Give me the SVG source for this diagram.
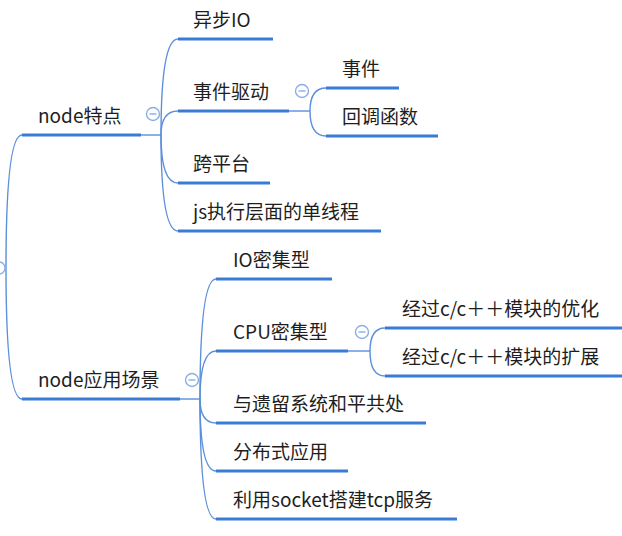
<svg xmlns="http://www.w3.org/2000/svg" width="622" height="536" viewBox="0 0 622 536">
<style>
  .t { font-family: "Noto Sans CJK SC", "Noto Sans", sans-serif; font-size: 19px; fill: #1e1e1e; }
  .u { stroke: #3a7bd5; stroke-width: 3; fill: none; }
  .c { stroke: #5b8fda; stroke-width: 1.4; fill: none; }
  .k circle { fill: #ffffff; stroke: #8aaee6; stroke-width: 1.4; }
  .k line { stroke: #8aaee6; stroke-width: 1.4; }
</style>
<rect width="622" height="536" fill="#ffffff"/>
<g id="connectors">
  <path class="c" d="M6,268 Q6,135 22,135"/>
  <path class="c" d="M6,268 Q6,399 22,399"/>
  <path class="c" d="M141,135 L161,135"/>
  <path class="c" d="M161,135 Q161,39 178,39"/>
  <path class="c" d="M161,135 Q161,111 178,111"/>
  <path class="c" d="M161,135 Q161,183 178,183"/>
  <path class="c" d="M161,135 Q161,231 178,231"/>
  <path class="c" d="M289,111 L310,111"/>
  <path class="c" d="M310,111 Q310,88 326,88"/>
  <path class="c" d="M310,111 Q310,136 326,136"/>
  <path class="c" d="M180,399 L200,399"/>
  <path class="c" d="M200,399 Q200,279 216,279"/>
  <path class="c" d="M200,399 Q200,351 216,351"/>
  <path class="c" d="M200,399 Q200,423 216,423"/>
  <path class="c" d="M200,399 Q200,471 216,471"/>
  <path class="c" d="M200,399 Q200,519 216,519"/>
  <path class="c" d="M348,351 L370,351"/>
  <path class="c" d="M370,351 Q370,328 385,328"/>
  <path class="c" d="M370,351 Q370,376 385,376"/>
</g>
<g id="root-toggle" class="k"><circle cx="-1" cy="268" r="6"/></g>
<g id="node-features">
  <line class="u" x1="22" y1="135" x2="141" y2="135"/>
  <text class="t" x="38" y="123">node特点</text>
  <g class="k"><circle cx="153" cy="114" r="6.5"/><line x1="149.5" y1="114" x2="156.5" y2="114"/></g>
</g>
<g id="async-io">
  <line class="u" x1="178" y1="39" x2="273" y2="39"/>
  <text class="t" x="193" y="27">异步IO</text>
</g>
<g id="event-driven">
  <line class="u" x1="178" y1="111" x2="289" y2="111"/>
  <text class="t" x="193" y="99">事件驱动</text>
  <g class="k"><circle cx="302" cy="91" r="6.5"/><line x1="298.5" y1="91" x2="305.5" y2="91"/></g>
</g>
<g id="event">
  <line class="u" x1="326" y1="88" x2="399" y2="88"/>
  <text class="t" x="342" y="76">事件</text>
</g>
<g id="callback">
  <line class="u" x1="326" y1="136" x2="438" y2="136"/>
  <text class="t" x="342" y="124">回调函数</text>
</g>
<g id="cross-platform">
  <line class="u" x1="178" y1="183" x2="270" y2="183"/>
  <text class="t" x="193" y="171">跨平台</text>
</g>
<g id="single-thread">
  <line class="u" x1="178" y1="231" x2="381" y2="231"/>
  <text class="t" x="193" y="219">js执行层面的单线程</text>
</g>
<g id="node-scenarios">
  <line class="u" x1="22" y1="399" x2="180" y2="399"/>
  <text class="t" x="38" y="387">node应用场景</text>
  <g class="k"><circle cx="192" cy="380" r="6.5"/><line x1="188.5" y1="380" x2="195.5" y2="380"/></g>
</g>
<g id="io-intensive">
  <line class="u" x1="216" y1="279" x2="332" y2="279"/>
  <text class="t" x="233" y="267">IO密集型</text>
</g>
<g id="cpu-intensive">
  <line class="u" x1="216" y1="351" x2="348" y2="351"/>
  <text class="t" x="233" y="339">CPU密集型</text>
  <g class="k"><circle cx="362" cy="332" r="6.5"/><line x1="358.5" y1="332" x2="365.5" y2="332"/></g>
</g>
<g id="cpp-optimize">
  <line class="u" x1="385" y1="328" x2="622" y2="328"/>
  <text class="t" x="402" y="316">经过c/c＋＋模块的优化</text>
</g>
<g id="cpp-extend">
  <line class="u" x1="385" y1="376" x2="622" y2="376"/>
  <text class="t" x="402" y="364">经过c/c＋＋模块的扩展</text>
</g>
<g id="legacy">
  <line class="u" x1="216" y1="423" x2="426" y2="423"/>
  <text class="t" x="233" y="411">与遗留系统和平共处</text>
</g>
<g id="distributed">
  <line class="u" x1="216" y1="471" x2="348" y2="471"/>
  <text class="t" x="233" y="459">分布式应用</text>
</g>
<g id="socket">
  <line class="u" x1="216" y1="519" x2="457" y2="519"/>
  <text class="t" x="233" y="507">利用socket搭建tcp服务</text>
</g>
</svg>
